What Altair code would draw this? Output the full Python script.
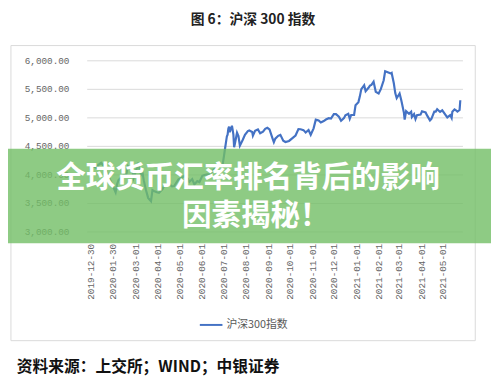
import altair as alt
import pandas as pd

dates = [
    "2019-12-30","2019-12-31","2020-01-03","2020-01-08","2020-01-10","2020-01-14","2020-01-17","2020-01-21","2020-01-23",
    "2020-02-03","2020-02-05","2020-02-07","2020-02-11","2020-02-14","2020-02-18","2020-02-20","2020-02-24","2020-02-26","2020-02-28",
    "2020-03-03","2020-03-05","2020-03-09","2020-03-11","2020-03-13","2020-03-16","2020-03-19","2020-03-23","2020-03-25","2020-03-27","2020-03-31",
    "2020-04-03","2020-04-08","2020-04-10","2020-04-14","2020-04-17","2020-04-21","2020-04-24","2020-04-30",
    "2020-05-06","2020-05-08","2020-05-13","2020-05-15","2020-05-19","2020-05-22","2020-05-26","2020-05-29",
    "2020-06-02","2020-06-05","2020-06-09","2020-06-12","2020-06-16","2020-06-19","2020-06-23","2020-06-24","2020-06-30",
    "2020-07-02","2020-07-03","2020-07-06","2020-07-07","2020-07-08","2020-07-09","2020-07-10","2020-07-13","2020-07-14","2020-07-15",
    "2020-07-16","2020-07-17","2020-07-20","2020-07-22","2020-07-24","2020-07-28","2020-07-31",
    "2020-08-04","2020-08-06","2020-08-10","2020-08-11","2020-08-14","2020-08-18","2020-08-21","2020-08-25","2020-08-28","2020-08-31",
    "2020-09-03","2020-09-07","2020-09-09","2020-09-11","2020-09-15","2020-09-18","2020-09-22","2020-09-25","2020-09-30",
    "2020-10-09","2020-10-13","2020-10-16","2020-10-20","2020-10-23","2020-10-27","2020-10-30",
    "2020-11-03","2020-11-06","2020-11-10","2020-11-13","2020-11-17","2020-11-20","2020-11-24","2020-11-27",
    "2020-12-01","2020-12-04","2020-12-08","2020-12-11","2020-12-15","2020-12-17","2020-12-21","2020-12-23","2020-12-25","2020-12-29","2020-12-31",
    "2021-01-04","2021-01-06","2021-01-08","2021-01-12","2021-01-14","2021-01-18","2021-01-20","2021-01-22","2021-01-25","2021-01-28",
    "2021-02-01","2021-02-04","2021-02-08","2021-02-10","2021-02-18","2021-02-19","2021-02-22","2021-02-24","2021-02-26",
    "2021-03-02","2021-03-04","2021-03-05","2021-03-08","2021-03-09","2021-03-11","2021-03-15","2021-03-18","2021-03-19","2021-03-22","2021-03-24","2021-03-26","2021-03-31",
    "2021-04-02","2021-04-07","2021-04-09","2021-04-13","2021-04-15","2021-04-19","2021-04-21","2021-04-23","2021-04-27","2021-04-30",
    "2021-05-07","2021-05-11","2021-05-13","2021-05-14","2021-05-17","2021-05-19","2021-05-21","2021-05-24","2021-05-25",
]
values = [
    4081,4097,4144,4113,4164,4204,4155,4114,4003,
    3688,3828,3899,3952,3987,4013,4145,4093,4073,3940,
    4092,4206,3997,4051,3895,3727,3589,3530,3723,3710,3686,
    3676,3741,3796,3824,3839,3790,3796,3912,
    3953,3975,3925,3868,3918,3824,3882,3867,
    3975,3989,4003,3996,4059,4099,4114,4137,4163,
    4324,4415,4670,4698,4802,4836,4743,4853,4780,4698,
    4476,4535,4730,4671,4505,4608,4695,
    4760,4771,4745,4678,4763,4789,4722,4751,4798,4816,
    4788,4636,4564,4627,4677,4693,4592,4568,4587,
    4681,4793,4791,4776,4734,4779,4695,
    4808,4960,4947,4910,4935,4962,4985,4980,
    5056,5057,5013,4941,4986,5035,5063,4974,5042,5044,5211,
    5267,5368,5495,5563,5458,5518,5557,5569,5625,5448,
    5418,5495,5650,5807,5768,5778,5597,5426,5336,
    5418,5319,5262,5080,4960,5108,5063,5100,5007,5057,4970,5038,5048,
    5106,5087,5035,4947,4975,5100,5100,5143,5095,5123,
    5000,5040,4990,5100,5141,5124,5100,5129,5300,
]
tick_dates = [
    (2019, 12, 30), (2020, 1, 30), (2020, 3, 1), (2020, 4, 1), (2020, 5, 1), (2020, 6, 1),
    (2020, 7, 1), (2020, 8, 1), (2020, 9, 1), (2020, 10, 1), (2020, 11, 1), (2020, 12, 1),
    (2021, 1, 1), (2021, 2, 1), (2021, 3, 1), (2021, 4, 1), (2021, 5, 1),
]
y_ticks = [3000, 3500, 4000, 4500, 5000, 5500, 6000]

title_text = "图 6：沪深 300 指数"
source_text = "资料来源：上交所；WIND；中银证券"
legend_text = "沪深300指数"
banner_line1 = "全球货币汇率排名背后的影响"
banner_line2 = "因素揭秘！"

df = pd.DataFrame({"date": dates, "value": values})
one = pd.DataFrame({"a": [0]})

def dt(t):
    return alt.DateTime(year=t[0], month=t[1], date=t[2], utc=True)

label_font = "Liberation Mono"
gray = "#666666"

line = alt.Chart(df).mark_line(color="#4472C4", strokeWidth=2.2).encode(
    x=alt.X("date:T",
            scale=alt.Scale(domain=[dt((2019, 12, 25)), dt((2021, 5, 28))]),
            axis=alt.Axis(values=[dt(t) for t in tick_dates],
                          labelExpr="utcFormat(datum.value, '%Y-%m-%d')",
                          labelAngle=270, labelFont=label_font, labelFontSize=9.5,
                          labelColor=gray, labelPadding=12, ticks=False, tickSize=0,
                          domain=False, grid=False, title=None, labelOverlap=False,
                          labelFlush=False)),
    y=alt.Y("value:Q",
            scale=alt.Scale(domain=[3000, 6000], nice=False, zero=False),
            axis=alt.Axis(values=y_ticks, format=",.2f", labelFont=label_font,
                          labelFontSize=9.5, labelColor=gray, labelPadding=18,
                          ticks=False, tickSize=0, domain=False, grid=True,
                          gridColor="#d9d9d9", gridWidth=1, title=None)),
)

border = alt.Chart(one).mark_rect(fillOpacity=0, stroke="#d9d9d9", strokeWidth=1).encode(
    x=alt.value(-77), x2=alt.value(395), y=alt.value(-15), y2=alt.value(285))

title = alt.Chart(one).mark_text(text=title_text, font="Noto Sans CJK SC", fontSize=14,
                                 fontWeight="bold", color="#222222", align="center",
                                 baseline="middle").encode(x=alt.value(169), y=alt.value(-41))

source = alt.Chart(one).mark_text(text=source_text, font="Noto Sans CJK SC", fontSize=16,
                                  fontWeight="bold", color="#111111", align="left",
                                  baseline="middle").encode(x=alt.value(-71), y=alt.value(312))

leg_line = alt.Chart(one).mark_rule(color="#4472C4", strokeWidth=2).encode(
    x=alt.value(115), x2=alt.value(138), y=alt.value(269))
leg_text = alt.Chart(one).mark_text(text=legend_text, font="Noto Sans CJK SC", fontSize=11,
                                    color="#595959", align="left", baseline="middle").encode(
    x=alt.value(142), y=alt.value(269))

banner = alt.Chart(one).mark_rect(color="#72be65", opacity=0.8).encode(
    x=alt.value(-90), x2=alt.value(420), y=alt.value(90), y2=alt.value(186))
b1 = alt.Chart(one).mark_text(text=banner_line1, font="Noto Sans CJK SC", fontSize=30,
                              fontWeight="bold", color="white", align="left",
                              baseline="middle").encode(x=alt.value(-31), y=alt.value(120))
b2 = alt.Chart(one).mark_text(text=banner_line2, font="Noto Sans CJK SC", fontSize=30,
                              fontWeight="bold", color="white", align="left",
                              baseline="middle").encode(x=alt.value(97), y=alt.value(158))

chart = alt.layer(border, line, title, source, leg_line, leg_text, banner, b1, b2).properties(
    width=382, height=174,
    autosize=alt.AutoSizeParams(type="none"),
    padding={"left": 80, "top": 50, "right": 29, "bottom": 160},
    background="white",
).configure_view(stroke=None)

chart.save("out.html", embed_options={"renderer": "svg", "actions": False})
